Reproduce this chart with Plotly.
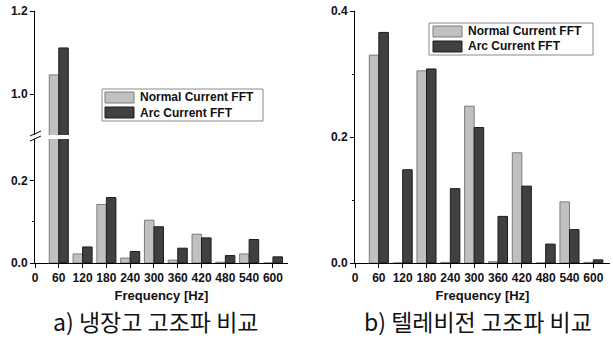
import plotly.graph_objects as go

W, H = 613, 338

freqs = [60, 120, 180, 240, 300, 360, 420, 480, 540, 600]
xtick_vals = [0, 60, 120, 180, 240, 300, 360, 420, 480, 540, 600]

# a) refrigerator
fridge_normal = [1.046, 0.022, 0.142, 0.012, 0.104, 0.007, 0.070, 0.002, 0.022, 0.0]
fridge_arc = [1.111, 0.039, 0.159, 0.028, 0.088, 0.036, 0.061, 0.018, 0.057, 0.015]

# b) television
tv_normal = [0.330, 0.0, 0.305, 0.001, 0.249, 0.002, 0.175, 0.0, 0.097, 0.001]
tv_arc = [0.366, 0.148, 0.308, 0.118, 0.215, 0.074, 0.122, 0.030, 0.053, 0.005]

series_names = ["Normal Current FFT", "Arc Current FFT"]
captions = ["a) 냉장고 고조파 비교", "b) 텔레비전 고조파 비교"]
x_title = "Frequency [Hz]"

NORMAL_FILL, NORMAL_LINE = "#c0c0c0", "#7c7c7c"
ARC_FILL, ARC_LINE = "#404040", "#1c1c1c"


def px(x):
    return x / W


def py(y):
    return 1 - y / H


fig = go.Figure()


def add_pair(xa, ya, normal, arc):
    fig.add_trace(go.Bar(x=freqs, y=normal, name=series_names[0], xaxis=xa, yaxis=ya,
                         marker=dict(color=NORMAL_FILL, line=dict(color=NORMAL_LINE, width=1)),
                         showlegend=False))
    fig.add_trace(go.Bar(x=freqs, y=arc, name=series_names[1], xaxis=xa, yaxis=ya,
                         marker=dict(color=ARC_FILL, line=dict(color=ARC_LINE, width=1)),
                         showlegend=False))


add_pair("x", "y", fridge_normal, fridge_arc)
add_pair("x", "y2", fridge_normal, fridge_arc)
add_pair("x2", "y3", tv_normal, tv_arc)

tickfont = dict(family="Liberation Sans, Arial", size=12, color="#111", weight="bold")
titlefont = dict(family="Liberation Sans, Arial", size=13, color="#111", weight="bold")

xcommon = dict(tickvals=xtick_vals, ticks="outside", ticklen=4, tickcolor="black",
               showline=True, linecolor="black", linewidth=1, showgrid=False,
               zeroline=False, tickfont=tickfont, fixedrange=True, automargin=False,
               title=dict(text=x_title, font=titlefont, standoff=6))
ycommon = dict(ticks="outside", ticklen=4, tickcolor="black", showline=True,
               linecolor="black", linewidth=1, showgrid=False, zeroline=False,
               tickfont=tickfont, tickformat=".1f", fixedrange=True, automargin=False)

fig.update_layout(
    width=W, height=H,
    margin=dict(l=0, r=0, t=0, b=0),
    paper_bgcolor="white", plot_bgcolor="rgba(0,0,0,0)",
    barmode="group", bargap=0.2, bargroupgap=0.0,
    showlegend=False,
    xaxis=dict(domain=[px(35), px(288)], range=[0, 638], anchor="y", **xcommon),
    yaxis=dict(domain=[py(263), py(139)], range=[0, 0.3013], anchor="x",
               tickvals=[0.0, 0.2], minor=dict(tickvals=[0.1], ticklen=2, ticks="outside",
                                               tickcolor="black"), **ycommon),
    yaxis2=dict(domain=[py(135), py(11)], range=[0.9012, 1.2], anchor="x",
                tickvals=[1.0, 1.2], **ycommon),
    xaxis2=dict(domain=[px(355), px(610)], range=[0, 642], anchor="y3", **xcommon),
    yaxis3=dict(domain=[py(263), py(11)], range=[0, 0.4], anchor="x2",
                tickvals=[0.0, 0.2, 0.4], minor=dict(tickvals=[0.1, 0.3], ticklen=2,
                                                     ticks="outside", tickcolor="black"),
                **ycommon),
)

shapes = []
annotations = []

# axis break marks
for (x0, y0, x1, y1) in [(30, 136, 41, 131), (30, 141, 41, 136)]:
    shapes.append(dict(type="line", xref="paper", yref="paper", x0=px(x0), y0=py(y0),
                       x1=px(x1), y1=py(y1), line=dict(color="black", width=1)))

# custom legends
legend_font = dict(family="Liberation Sans, Arial", size=12, color="#111", weight="bold")
for (bx0, by0, bx1, by1, sx0, sy0, tx) in [(102, 89, 263, 121, 105, 92, 138),
                                         (429, 23, 593, 55, 433, 26, 466)]:
    shapes.append(dict(type="rect", xref="paper", yref="paper", x0=px(bx0), y0=py(by1),
                       x1=px(bx1), y1=py(by0), line=dict(color="#8a8a8a", width=1),
                       fillcolor="white", layer="above"))
    for i, (fc, lc) in enumerate([(NORMAL_FILL, NORMAL_LINE), (ARC_FILL, ARC_LINE)]):
        top = sy0 + i * 15
        shapes.append(dict(type="rect", xref="paper", yref="paper", x0=px(sx0), y0=py(top + 11),
                           x1=px(sx0 + 29), y1=py(top), fillcolor=fc,
                           line=dict(color=lc, width=1), layer="above"))
        annotations.append(dict(text=series_names[i], xref="paper", yref="paper",
                                x=px(tx), y=py(top + 5.5), xanchor="left", yanchor="middle",
                                showarrow=False, font=legend_font))

# captions
for cap, cx in zip(captions, [155.5, 478]):
    annotations.append(dict(text=cap, xref="paper", yref="paper", x=px(cx), y=py(321),
                            xanchor="center", yanchor="middle", showarrow=False,
                            font=dict(family="Noto Sans CJK KR", size=23, color="#111")))

fig.update_layout(shapes=shapes, annotations=annotations)
fig.write_html("out.html", config={"displayModeBar": False},
               post_script="document.body.style.margin='0px';")
